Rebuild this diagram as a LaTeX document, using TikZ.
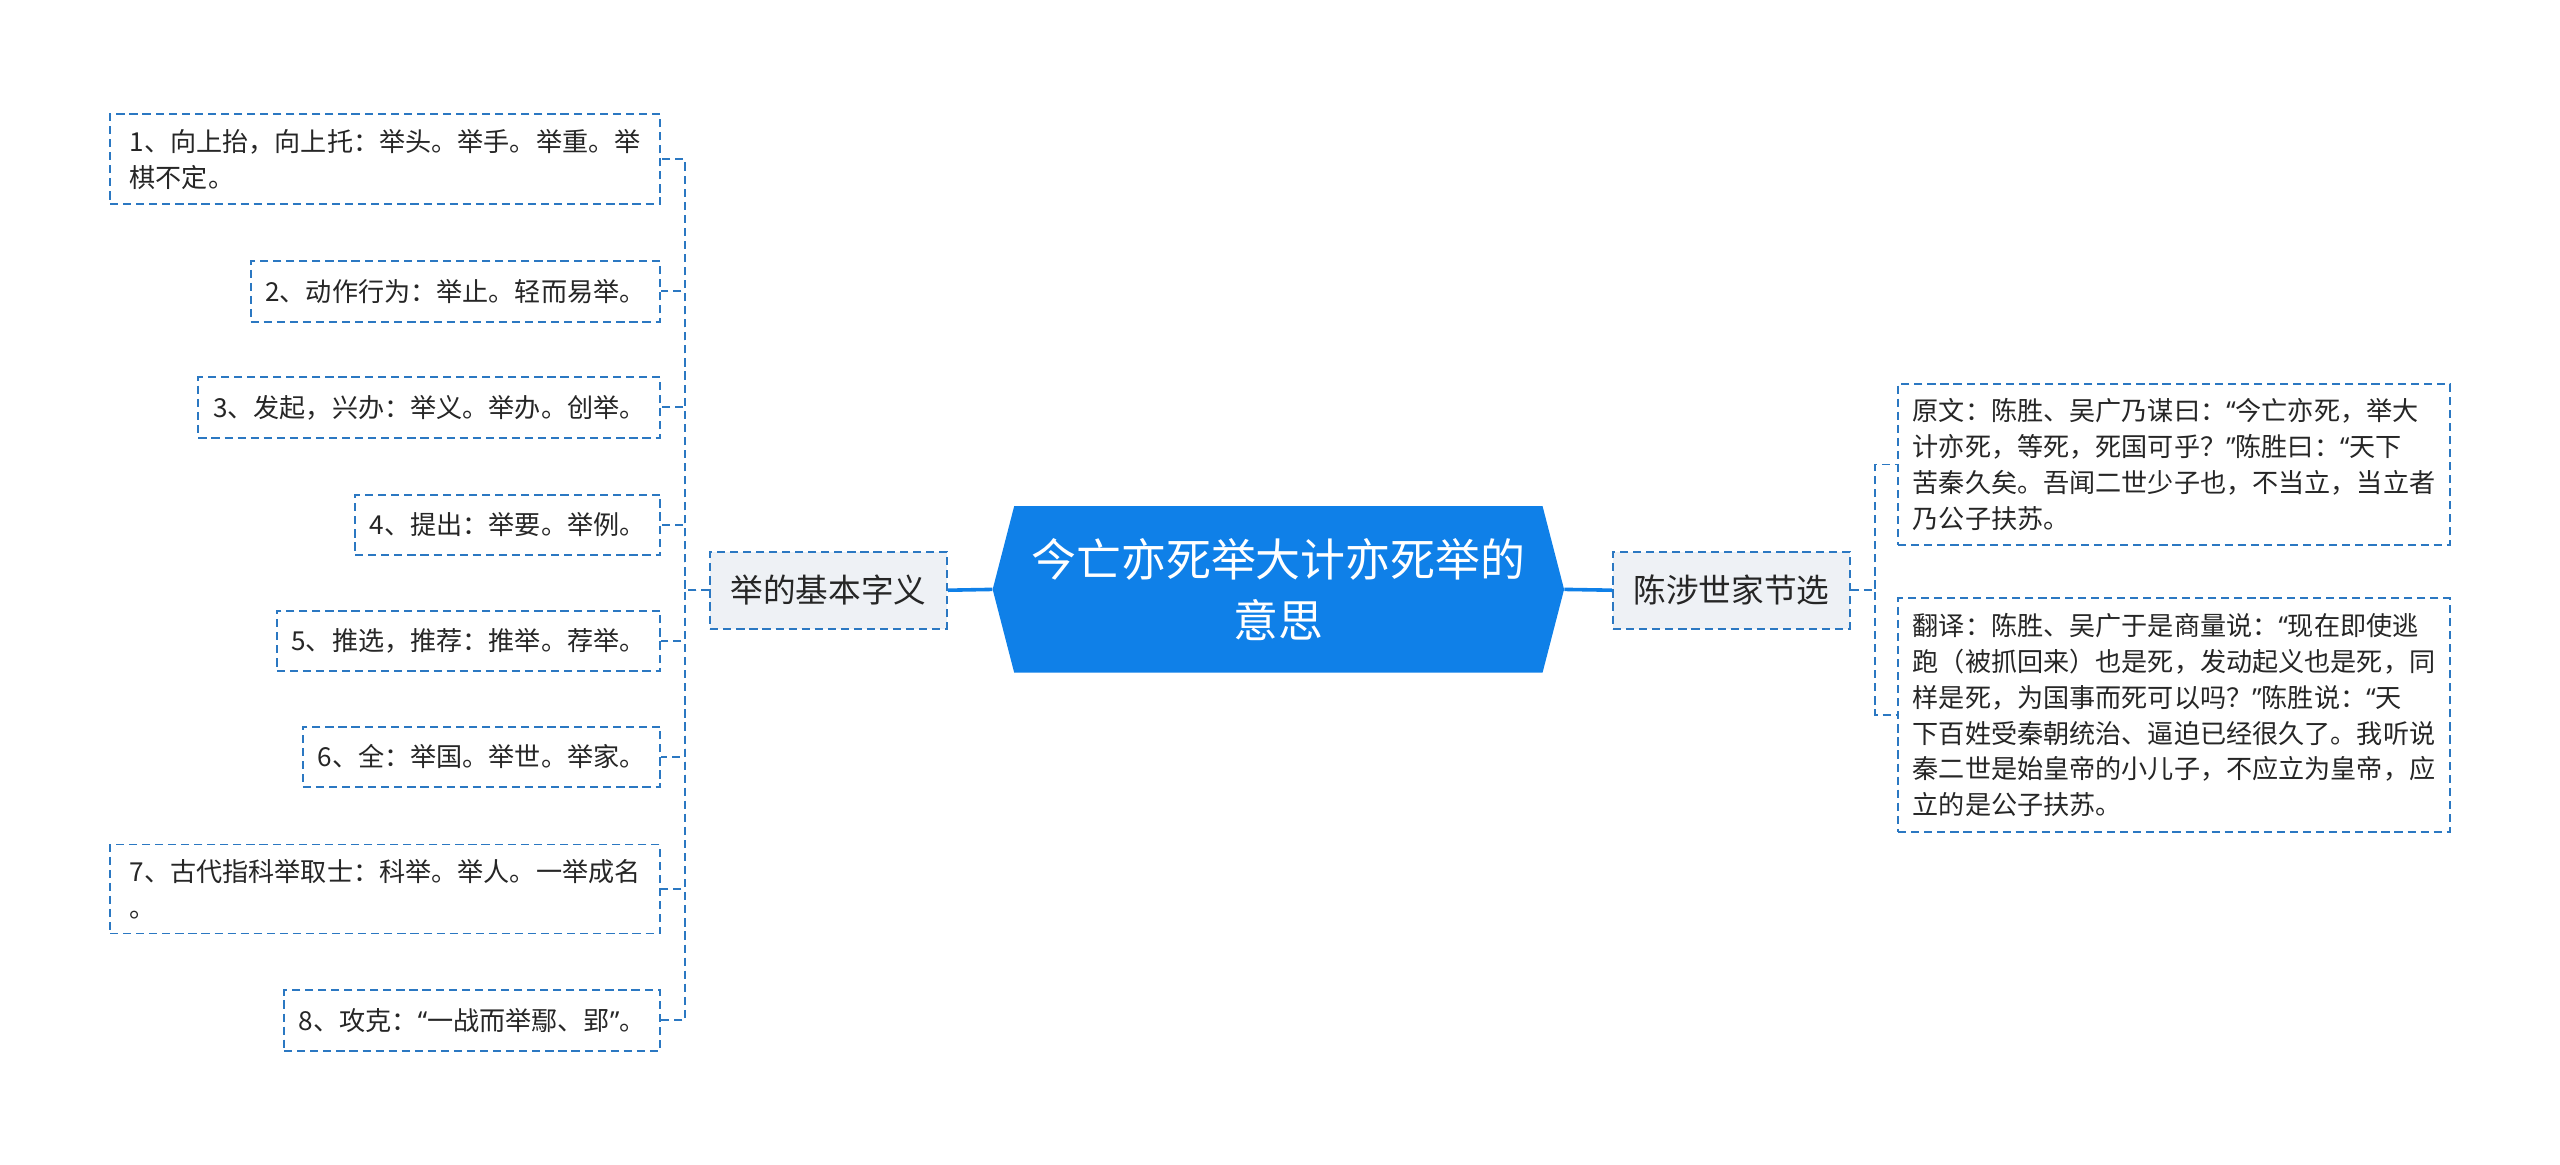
\documentclass[tikz,border=0pt]{standalone}
\usepackage{fontspec}
\setmainfont{Noto Sans CJK SC}
\newfontfamily\quotefont{Noto Sans}
\newcommand\openq{{\quotefont “}}
\newcommand\closeq{{\quotefont ”}}
\usetikzlibrary{shapes.symbols}
\definecolor{rootblue}{HTML}{0F80E8}
\definecolor{lineblue}{HTML}{2B78C2}
\definecolor{branchgray}{HTML}{EEF1F5}
\definecolor{txtgray}{HTML}{262626}
\tikzset{
  leaf/.style={draw=lineblue,line width=1.2pt,dash pattern=on 5pt off 3pt,fill=white,text=txtgray,
    align=left,inner xsep=9pt,inner ysep=9pt,minimum height=37pt,font=\fontsize{16}{22}\selectfont},
  branch/.style={draw=lineblue,line width=1.2pt,dash pattern=on 5pt off 3pt,fill=branchgray,text=txtgray,
    minimum width=145pt,minimum height=47pt,font=\fontsize{20}{24}\selectfont},
  root/.style={signal,signal to=west and east,signal pointer angle=151,fill=rootblue,text=white,
    align=center,minimum width=350pt,minimum height=102pt,font=\fontsize{27.5}{37}\selectfont},
  trunk/.style={draw=rootblue,line width=2.2pt},
  twig/.style={draw=lineblue,line width=1.2pt,dash pattern=on 5pt off 3pt}
}
\begin{document}
\begin{tikzpicture}[x=1pt,y=-1pt]
\useasboundingbox (0,0) rectangle (1568,713);
\node[root] (root) at (783,361) {今亡亦死举大计亦死举的\\意思};

\node[branch] (basic) at (507.5,361.5) {举的基本字义};
\draw[trunk] (root.west)--(basic.east);
\node[branch] (excerpt) at (1060.5,361.5) {陈涉世家节选};
\draw[trunk] (root.east)--(excerpt.west);

\node[leaf,anchor=east,minimum width=337pt] (m1) at (405,97.5) {1、向上抬，向上托：举头。举手。举重。举\\棋不定。};
\draw[twig] (basic.west)-- ++(-15,0) |- (m1.east);
\node[leaf,anchor=east] (m2) at (405,178.5) {2、动作行为：举止。轻而易举。};
\draw[twig] (basic.west)-- ++(-15,0) |- (m2.east);
\node[leaf,anchor=east] (m3) at (405,249.5) {3、发起，兴办：举义。举办。创举。};
\draw[twig] (basic.west)-- ++(-15,0) |- (m3.east);
\node[leaf,anchor=east] (m4) at (405,321.5) {4、提出：举要。举例。};
\draw[twig] (basic.west)-- ++(-15,0) |- (m4.east);
\node[leaf,anchor=east] (m5) at (405,392.5) {5、推选，推荐：推举。荐举。};
\draw[twig] (basic.west)-- ++(-15,0) |- (m5.east);
\node[leaf,anchor=east] (m6) at (405,463.5) {6、全：举国。举世。举家。};
\draw[twig] (basic.west)-- ++(-15,0) |- (m6.east);
\node[leaf,anchor=east,minimum width=337pt] (m7) at (405,544.5) {7、古代指科举取士：科举。举人。一举成名\\。};
\draw[twig] (basic.west)-- ++(-15,0) |- (m7.east);
\node[leaf,anchor=east] (m8) at (405,625) {8、攻克：\openq 一战而举鄢、郢\closeq 。};
\draw[twig] (basic.west)-- ++(-15,0) |- (m8.east);

\node[leaf,anchor=west,minimum width=338pt] (orig) at (1162,284.5) {原文：陈胜、吴广乃谋曰：\openq 今亡亦死，举大\\计亦死，等死，死国可乎？\closeq 陈胜曰：\openq 天下\\苦秦久矣。吾闻二世少子也，不当立，当立者\\乃公子扶苏。};
\draw[twig] (excerpt.east)-- ++(15,0) |- (orig.west);
\node[leaf,anchor=west,minimum width=338pt] (trans) at (1162,438) {翻译：陈胜、吴广于是商量说：\openq 现在即使逃\\跑（被抓回来）也是死，发动起义也是死，同\\样是死，为国事而死可以吗？\closeq 陈胜说：\openq 天\\下百姓受秦朝统治、逼迫已经很久了。我听说\\秦二世是始皇帝的小儿子，不应立为皇帝，应\\立的是公子扶苏。};
\draw[twig] (excerpt.east)-- ++(15,0) |- (trans.west);
\end{tikzpicture}
\end{document}
